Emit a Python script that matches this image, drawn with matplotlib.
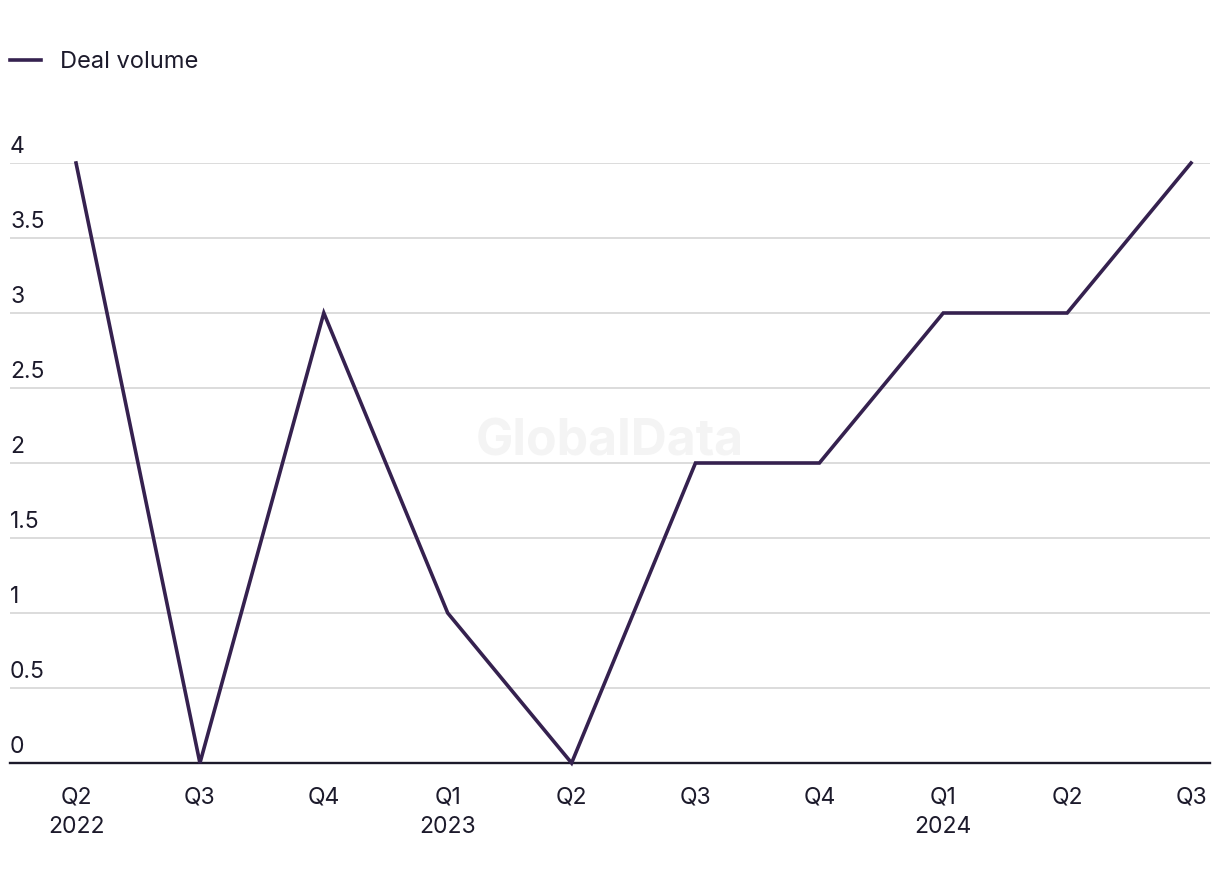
import numpy as np
import matplotlib.pyplot as plt
from matplotlib.lines import Line2D
import matplotlib.transforms as mtransforms

plt.rcParams['font.family'] = ['Inter', 'DejaVu Sans']

quarters = ['Q2', 'Q3', 'Q4', 'Q1', 'Q2', 'Q3', 'Q4', 'Q1', 'Q2', 'Q3']
years = ['2022', '', '', '2023', '', '', '', '2024', '', '']
deal_volume = [4, 0, 3, 1, 0, 2, 2, 3, 3, 4]
yticks = [0, 0.5, 1, 1.5, 2, 2.5, 3, 3.5, 4]
ylabels = ['0', '0.5', '1', '1.5', '2', '2.5', '3', '3.5', '4']

LINE = '#35214f'
TEXT = '#1c1a2b'

fig = plt.figure(figsize=(12.2, 8.84), dpi=100)
ax = fig.add_axes([10 / 1220, 121 / 884, 1200 / 1220, 600 / 884])

x = np.arange(len(quarters))
ax.plot(x, deal_volume, color=LINE, lw=2.6, clip_on=False, zorder=3,
        solid_joinstyle='miter')

ax.set_xlim(-0.533, 9.153)
ax.set_ylim(0, 4)

for v in yticks[1:]:
    ax.axhline(v, color='#d9d9d9', lw=1.3, zorder=1)
ax.axhline(0, color=TEXT, lw=1.7, zorder=2, clip_on=False)

trans = mtransforms.blended_transform_factory(ax.transAxes, ax.transData)
off = mtransforms.ScaledTranslation(0, 5 / 100, fig.dpi_scale_trans)
for v, lab in zip(yticks, ylabels):
    ax.text(0, v, lab, transform=trans + off, ha='left', va='bottom',
            fontsize=16.5, color=TEXT)

labels = [q + ('\n' + y if y else '') for q, y in zip(quarters, years)]
ax.set_xticks(x)
ax.set_xticklabels(labels, fontsize=16.5, color=TEXT, linespacing=1.45)
ax.tick_params(axis='x', length=0, pad=17)
ax.set_yticks([])
for s in ax.spines.values():
    s.set_visible(False)

ax.text(0.5, 0.535, 'GlobalData', transform=ax.transAxes, ha='center',
        va='center', fontsize=36, fontweight='bold', color='#f4f4f4', zorder=0)

handle = Line2D([], [], color=LINE, lw=2.6)
fig.legend([handle], ['Deal volume'], loc='center left',
           bbox_to_anchor=(10 / 1220, 1 - 62 / 884), frameon=False,
           fontsize=17, handlelength=1.3, handletextpad=0.8,
           borderaxespad=0, borderpad=0, labelcolor=TEXT)

fig.savefig('out.png', dpi=100)
